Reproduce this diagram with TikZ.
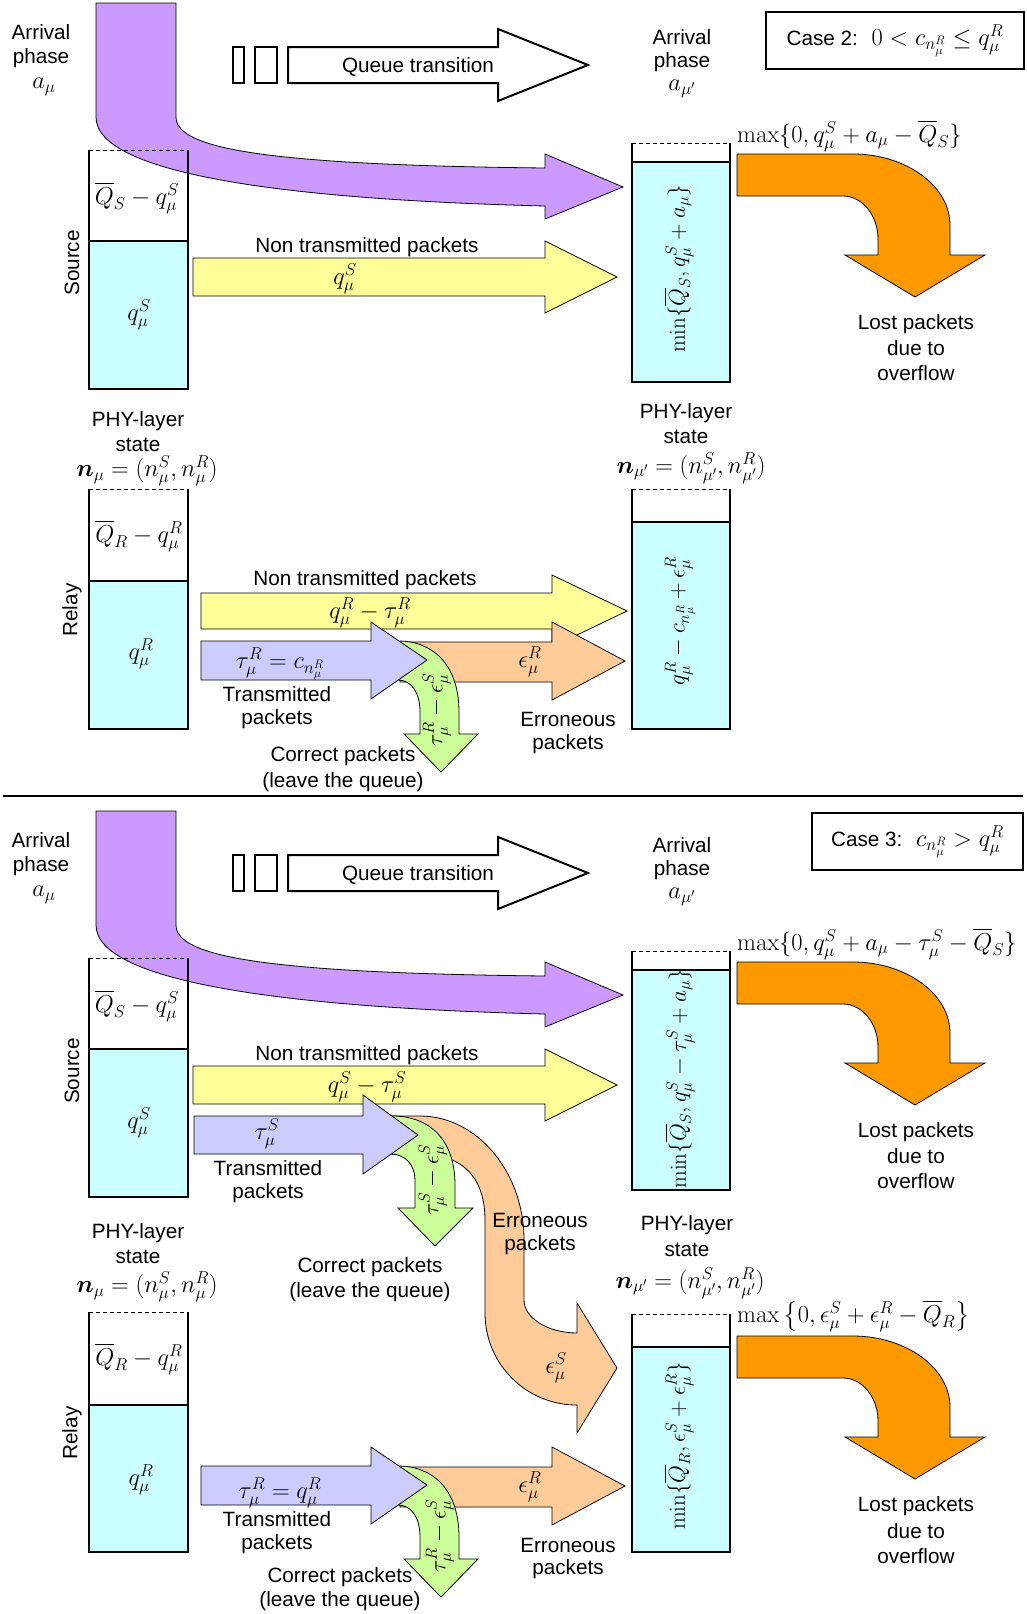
\RequirePackage{fix-cm}
\documentclass[tikz,border=0pt]{standalone}
\usepackage{amsmath}
\usepackage[no-math]{fontspec}
\setmainfont{Liberation Sans}
\definecolor{cpurple}{RGB}{204,153,255}
\definecolor{ccyan}{RGB}{204,255,255}
\definecolor{cyellow}{RGB}{255,255,153}
\definecolor{cblue}{RGB}{204,204,255}
\definecolor{cgreen}{RGB}{204,255,153}
\definecolor{clorange}{RGB}{255,204,153}
\definecolor{corange}{RGB}{255,153,0}
\tikzset{
  txt/.style={font=\fontsize{20.7}{24}\selectfont, inner sep=0pt},
  mth/.style={font=\fontsize{24.5}{28}\selectfont, inner sep=0pt},
  rmth/.style={font=\fontsize{23}{27}\selectfont, inner sep=0pt, rotate=90},
  flow/.style={draw=black, line width=0.8pt, line join=miter},
  purp/.style={flow, fill=cpurple},
  ylw/.style={flow, fill=cyellow},
  blu/.style={flow, fill=cblue},
  grn/.style={flow, fill=cgreen},
  lora/.style={flow, fill=clorange},
  ovf/.style={flow, fill=corange},
  qt/.style={draw=black, line width=2pt, fill=white},
  qline/.style={draw=black, line width=2pt},
  qdash/.style={draw=black, line width=1pt, dash pattern=on 4pt off 3pt},
  casebox/.style={draw=black, line width=1.2pt, inner sep=0pt, font=\fontsize{24.5}{28}\selectfont},
}
% queue box: x1 x2 ytop ydiv ybot
\newcommand\qbox[5]{%
  \fill[ccyan] (#1,#4) rectangle (#2,#5);
  \draw[qdash] (#1,#3) -- (#2,#3);
  \draw[qline] (#1,#3) -- (#1,#5) -- (#2,#5) -- (#2,#3);
  \draw[qline] (#1,#4) -- (#2,#4);}
\newcommand\arrivalarrow[1]{\begin{scope}[yshift=-#1pt]
  \filldraw[purp] (96,3) -- (96,117) .. controls (96,176) and (300,200) .. (545,206) -- (545,219) -- (623,187) -- (545,154) -- (545,168) .. controls (260,165) and (176,148) .. (176,117) -- (176,3) -- cycle;
\end{scope}}
\newcommand\qtrans[1]{\begin{scope}[yshift=-#1pt]
  \draw[qt] (233,47) rectangle (244,83);
  \draw[qt] (255,47) rectangle (277,83);
  \draw[qt, line join=miter] (288,47) -- (498,47) -- (498,29) -- (588,65) -- (498,101) -- (498,83) -- (288,83) -- cycle;
\end{scope}}
\newcommand\overflowarrow[1]{\begin{scope}[yshift=-#1pt]
  \filldraw[ovf] (737,154) -- (853,154) .. controls (906,154) and (950,186) .. (950,225) -- (950,255) -- (985,255) -- (915,297) -- (845,255) -- (878,255) -- (878,239) .. controls (878,215) and (862,196) .. (843,196) -- (737,196) -- cycle;
\end{scope}}
\newcommand\srcyellow[1]{\begin{scope}[yshift=-#1pt]
  \filldraw[ylw] (193,258) -- (545,258) -- (545,241) -- (617,277) -- (545,313) -- (545,296) -- (193,296) -- cycle;
\end{scope}}
\newcommand\relayflows[1]{\begin{scope}[yshift=-#1pt]
  \filldraw[lora] (400,642) -- (552,642) -- (552,622) -- (625,661) -- (552,700) -- (552,682) -- (400,682) -- cycle;
  \filldraw[grn] (399,641) .. controls (430,641) and (459,662) .. (459,712) -- (459,734) -- (478,734) -- (441,772) -- (404,734) -- (420,734) -- (420,712) .. controls (420,692) and (411,680) .. (398,680) -- cycle;
  \filldraw[blu] (201,641) -- (371,641) -- (371,622) -- (427,660) -- (371,699) -- (371,680) -- (201,680) -- cycle;
\end{scope}}
\begin{document}
\begin{tikzpicture}[x=1pt,y=-1pt]
\useasboundingbox (0,0) rectangle (1026,1614);
\fill[white] (0,0) rectangle (1026,1614);

%%%%%%%%%%%%%%%% CASE 2 %%%%%%%%%%%%%%%%
\arrivalarrow{0}
\qtrans{0}
\node[txt] (qtA) at (418,67) {Queue transition};
\qbox{89}{188}{150}{241}{389}
\qbox{632}{730}{143}{162}{382}
\overflowarrow{0}
\srcyellow{0}
% relay
\qbox{89}{188}{489}{581}{729}
\qbox{632}{730}{489}{522}{729}
\filldraw[ylw] (201,593) -- (552,593) -- (552,575) -- (627,611) -- (552,647) -- (552,629) -- (201,629) -- cycle;
\relayflows{0}

\node[txt] (arrL1) at (41,32) {Arrival};
\node[txt] (arrL2) at (41,58) {phase};
\node[mth] (arrL3) at (44,87) {$a_\mu$};
\node[txt] (arrR1) at (682,37) {Arrival};
\node[txt] (arrR2) at (682,62) {phase};
\node[mth] (arrR3) at (682,89) {$a_{\mu'}$};
\node[casebox, minimum width=258pt, minimum height=57pt] (case2) at (895,40.5) {{\fontsize{20.7}{24}\selectfont Case 2:}\ \ $0<c_{n^R_\mu}\le q^R_\mu$};
\node[txt, rotate=90] (srcA) at (72,263) {Source};
\node[mth] (qsA) at (137,198) {$\overline{Q}_S-q^S_\mu$};
\node[mth] (qsB) at (139,315) {$q^S_\mu$};
\node[txt] (ntA) at (367,247) {Non transmitted packets};
\node[mth] (ntAv) at (345,279) {$q^S_\mu$};
\node[mth, anchor=west] (maxA) at (737,136) {$\max\{0,q^S_\mu+a_\mu-\overline{Q}_S\}$};
\node[rmth] (minA) at (679,269) {$\min\{\overline{Q}_S,q^S_\mu+a_\mu\}$};
\node[txt] (lostA1) at (916,324) {Lost packets};
\node[txt] (lostA2) at (916,348) {due to};
\node[txt] (lostA3) at (916,373) {overflow};
\node[txt] (phyL1) at (138,421) {PHY-layer};
\node[txt] (phyL2) at (138,445) {state};
\node[mth] (phyL3) at (147,471) {$\boldsymbol{n}_\mu=(n^S_\mu,n^R_\mu)$};
\node[txt] (phyR1) at (686,413) {PHY-layer};
\node[txt] (phyR2) at (686,437) {state};
\node[mth] (phyR3) at (691,468) {$\boldsymbol{n}_{\mu'}=(n^S_{\mu'},n^R_{\mu'})$};
\node[txt, rotate=90] (relA) at (72,610) {Relay};
\node[mth] (qrA) at (139,536) {$\overline{Q}_R-q^R_\mu$};
\node[mth] (qrB) at (141,654) {$q^R_\mu$};
\node[txt] (ntR) at (365,580) {Non transmitted packets};
\node[mth] (ntRv) at (370,613) {$q^R_\mu-\tau^R_\mu$};
\node[mth] (trA) at (280,664) {$\tau^R_\mu=c_{n^R_\mu}$};
\node[txt] (trA1) at (277,694) {Transmitted};
\node[txt] (trA2) at (277,719) {packets};
\node[mth] (erA) at (530,662) {$\epsilon^R_\mu$};
\node[txt] (erA1) at (568,719) {Erroneous};
\node[txt] (erA2) at (568,744) {packets};
\node[rmth] (crAv) at (437,710) {$\tau^R_\mu-\epsilon^S_\mu$};
\node[txt] (crA1) at (343,756) {Correct packets};
\node[txt] (crA2) at (343,782) {(leave the queue)};
\node[rmth] (rqA) at (680,621) {$q^R_\mu-c_{n^R_\mu}+\epsilon^R_\mu$};

\coordinate (sepL) at (3,796);
\coordinate (sepR) at (1023,796);
\draw[line width=1.5pt] (sepL) -- (sepR);

%%%%%%%%%%%%%%%% CASE 3 %%%%%%%%%%%%%%%%
\arrivalarrow{808}
\qtrans{808}
\node[txt] (qtB) at (418,875) {Queue transition};
\qbox{89}{188}{958}{1049}{1197}
\qbox{632}{730}{951}{970}{1190}
\overflowarrow{808}
\srcyellow{808}
% S-shaped erroneous arrow
\filldraw[lora] (392,1116) -- (420,1116) .. controls (477,1116) and (524,1172) .. (524,1240) -- (524,1300) .. controls (524,1318) and (548,1333) .. (577,1333) -- (577,1303) -- (617,1368) -- (577,1433) -- (577,1405) .. controls (526,1405) and (485,1364) .. (485,1313) -- (485,1220) .. controls (485,1180) and (465,1154) .. (420,1154) -- (392,1154) -- cycle;
\filldraw[grn] (392,1116) .. controls (430,1116) and (455,1140) .. (455,1185) -- (455,1208) -- (473,1208) -- (435,1246) -- (398,1208) -- (415,1208) -- (415,1180) .. controls (415,1165) and (405,1154) .. (391,1154) -- cycle;
\filldraw[blu] (194,1116) -- (363,1116) -- (363,1095) -- (418,1135) -- (363,1174) -- (363,1154) -- (194,1154) -- cycle;
% relay
\qbox{89}{188}{1312}{1405}{1552}
\qbox{632}{730}{1314}{1347}{1552}
\overflowarrow{1182}
\relayflows{825}

\node[txt] (arrL1b) at (41,840) {Arrival};
\node[txt] (arrL2b) at (41,866) {phase};
\node[mth] (arrL3b) at (44,895) {$a_\mu$};
\node[txt] (arrR1b) at (682,845) {Arrival};
\node[txt] (arrR2b) at (682,870) {phase};
\node[mth] (arrR3b) at (682,897) {$a_{\mu'}$};
\node[casebox, minimum width=211pt, minimum height=57pt] (case3) at (917.5,841.5) {{\fontsize{20.7}{24}\selectfont Case 3:}\ \ $c_{n^R_\mu}>q^R_\mu$};
\node[txt, rotate=90] (srcB) at (72,1071) {Source};
\node[mth] (qsC) at (137,1006) {$\overline{Q}_S-q^S_\mu$};
\node[mth] (qsD) at (139,1123) {$q^S_\mu$};
\node[txt] (ntB) at (367,1055) {Non transmitted packets};
\node[mth] (ntBv) at (367,1087) {$q^S_\mu-\tau^S_\mu$};
\node[mth] (tsB) at (267,1134) {$\tau^S_\mu$};
\node[txt] (tsB1) at (268,1168) {Transmitted};
\node[txt] (tsB2) at (268,1193) {packets};
\node[rmth] (csBv) at (433,1180) {$\tau^S_\mu-\epsilon^S_\mu$};
\node[txt] (csB1) at (370,1267) {Correct packets};
\node[txt] (csB2) at (370,1292) {(leave the queue)};
\node[txt] (esB1) at (540,1220) {Erroneous};
\node[txt] (esB2) at (540,1245) {packets};
\node[mth] (esBv) at (556,1368) {$\epsilon^S_\mu$};
\node[mth, anchor=west] (maxB) at (737,944) {$\max\{0,q^S_\mu+a_\mu-\tau^S_\mu-\overline{Q}_S\}$};
\node[rmth] (minB) at (680,1079) {$\min\{\overline{Q}_S,q^S_\mu-\tau^S_\mu+a_\mu\}$};
\node[txt] (lostB1) at (916,1132) {Lost packets};
\node[txt] (lostB2) at (916,1156) {due to};
\node[txt] (lostB3) at (916,1181) {overflow};
\node[txt] (phyL1b) at (138,1233) {PHY-layer};
\node[txt] (phyL2b) at (138,1257) {state};
\node[mth] (phyL3b) at (147,1287) {$\boldsymbol{n}_\mu=(n^S_\mu,n^R_\mu)$};
\node[txt] (phyR1b) at (687,1225) {PHY-layer};
\node[txt] (phyR2b) at (687,1250) {state};
\node[mth] (phyR3b) at (690,1283) {$\boldsymbol{n}_{\mu'}=(n^S_{\mu'},n^R_{\mu'})$};
\node[mth, anchor=west] (maxC) at (737,1316) {$\max\left\{0,\epsilon^S_\mu+\epsilon^R_\mu-\overline{Q}_R\right\}$};
\node[rmth] (minC) at (679,1446) {$\min\{\overline{Q}_R,\epsilon^S_\mu+\epsilon^R_\mu\}$};
\node[txt, rotate=90] (relB) at (72,1433) {Relay};
\node[mth] (qrC) at (139,1359) {$\overline{Q}_R-q^R_\mu$};
\node[mth] (qrD) at (141,1480) {$q^R_\mu$};
\node[mth] (trB) at (280,1493) {$\tau^R_\mu=q^R_\mu$};
\node[txt] (trB1) at (277,1519) {Transmitted};
\node[txt] (trB2) at (277,1544) {packets};
\node[rmth] (crBv) at (440,1536) {$\tau^R_\mu-\epsilon^S_\mu$};
\node[mth] (erB) at (530,1487) {$\epsilon^R_\mu$};
\node[txt] (erB1) at (568,1545) {Erroneous};
\node[txt] (erB2) at (568,1569) {packets};
\node[txt] (crB1) at (340,1577) {Correct packets};
\node[txt] (crB2) at (340,1601) {(leave the queue)};
\node[txt] (lostC1) at (916,1506) {Lost packets};
\node[txt] (lostC2) at (916,1531) {due to};
\node[txt] (lostC3) at (916,1556) {overflow};
\end{tikzpicture}
\end{document}
